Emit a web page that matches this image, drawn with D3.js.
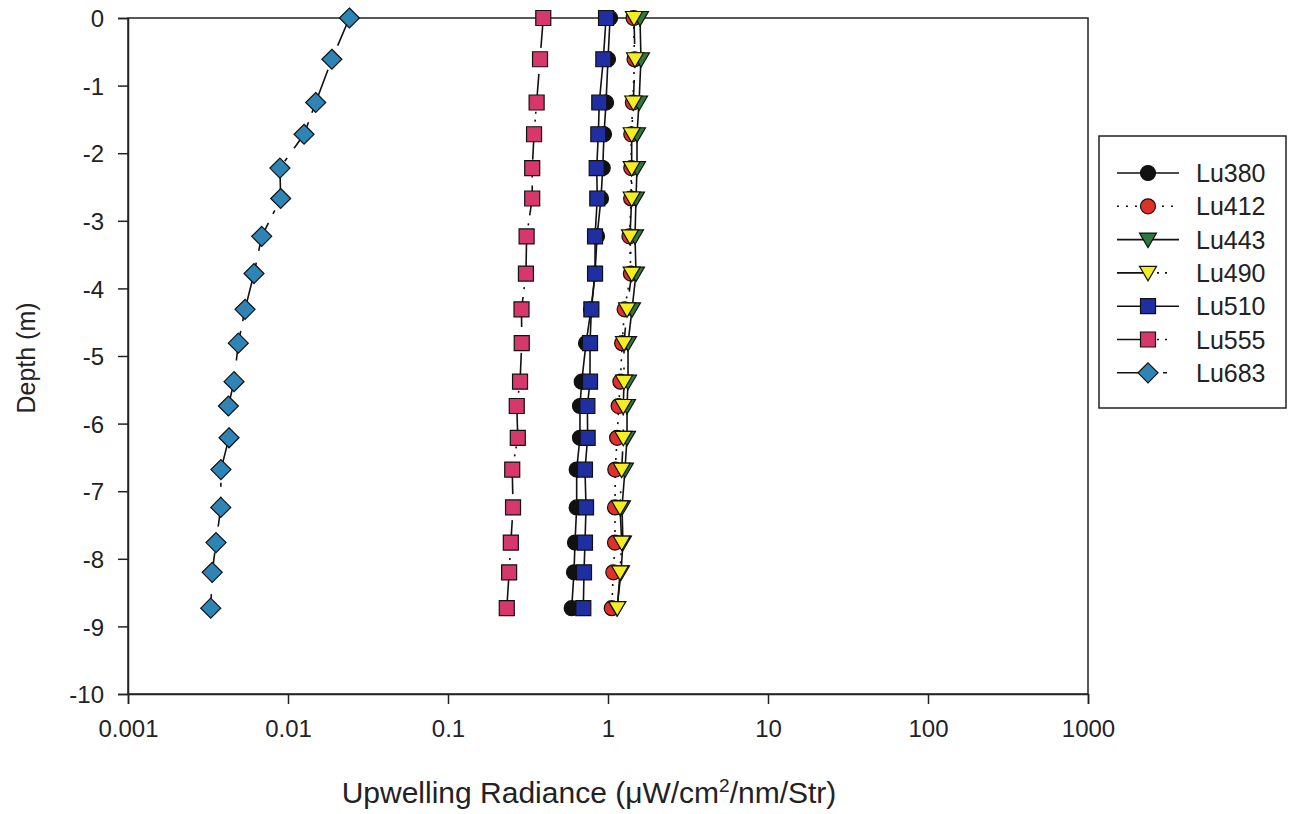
<!DOCTYPE html>
<html><head><meta charset="utf-8">
<script src="https://cdn.jsdelivr.net/npm/d3@7"></script>
<style>
html,body{margin:0;padding:0;background:#fff;}
text{font-family:"Liberation Sans",Arial,Helvetica,sans-serif;fill:#222;}
</style></head>
<body><svg id="c" width="1305" height="814"></svg>
<script>
const depths = [0, -0.61, -1.25, -1.72, -2.22, -2.67, -3.23, -3.78, -4.31, -4.81, -5.38, -5.74, -6.21, -6.68, -7.24, -7.76, -8.20, -8.73];
const lu380 = [1.03, 1.0, 0.972, 0.944, 0.927, 0.904, 0.854, 0.83, 0.783, 0.729, 0.685, 0.668, 0.668, 0.637, 0.637, 0.622, 0.613, 0.593];
const lu412 = [1.445, 1.465, 1.43, 1.398, 1.398, 1.395, 1.362, 1.39, 1.27, 1.225, 1.195, 1.165, 1.14, 1.11, 1.106, 1.106, 1.079, 1.055];
const lu443 = [1.585, 1.607, 1.563, 1.518, 1.518, 1.496, 1.475, 1.496, 1.413, 1.334, 1.334, 1.315, 1.315, 1.277, 1.223, 1.24, 1.206, 1.138];
const lu490 = [1.454, 1.475, 1.439, 1.406, 1.406, 1.406, 1.372, 1.406, 1.315, 1.259, 1.259, 1.246, 1.246, 1.218, 1.189, 1.218, 1.189, 1.143];
const lu510 = [0.972, 0.935, 0.882, 0.87, 0.85, 0.857, 0.83, 0.83, 0.787, 0.772, 0.772, 0.743, 0.746, 0.718, 0.729, 0.718, 0.708, 0.701];
const lu555 = [0.394, 0.376, 0.358, 0.345, 0.336, 0.336, 0.31, 0.307, 0.288, 0.289, 0.282, 0.269, 0.273, 0.252, 0.255, 0.247, 0.241, 0.233];
const lu683 = [0.0242, 0.0188, 0.0149, 0.0126, 0.0089, 0.0090, 0.00685, 0.00613, 0.00539, 0.00489, 0.0046, 0.00424, 0.00428, 0.00381, 0.0038, 0.00355, 0.00336, 0.00329];

const seriesNames = ["Lu380","Lu412","Lu443","Lu490","Lu510","Lu555","Lu683"];
const xTickValues = [0.001, 0.01, 0.1, 1, 10, 100, 1000];
const xTickLabels = ["0.001","0.01","0.1","1","10","100","1000"];
const yTickValues = [0,-1,-2,-3,-4,-5,-6,-7,-8,-9,-10];
const yTickLabels = ["0","-1","-2","-3","-4","-5","-6","-7","-8","-9","-10"];

const series = [
  {name:"Lu380", values:lu380, shape:"circle", fill:"#111111", dash:null},
  {name:"Lu412", values:lu412, shape:"circle", fill:"#e0302a", dash:"2,7"},
  {name:"Lu443", values:lu443, shape:"triangle", fill:"#2e7a3e", dash:null},
  {name:"Lu490", values:lu490, shape:"triangle", fill:"#f4ee1e", dash:"26,14,2,6,2,12"},
  {name:"Lu510", values:lu510, shape:"square", fill:"#1f2fa2", dash:null},
  {name:"Lu555", values:lu555, shape:"square", fill:"#d6386c", dash:"30,8,2,6,2,8"},
  {name:"Lu683", values:lu683, shape:"diamond", fill:"#2f84b6", dash:"30,12,4,10"}
];

const svg = d3.select("#c");
const L=128, R=1088, T=18, B=694;
const x = d3.scaleLog().domain([0.001,1000]).range([L,R]);
const y = d3.scaleLinear().domain([-10,0]).range([B,T]);

svg.append("rect").attr("x",L).attr("y",T).attr("width",R-L).attr("height",B-T)
  .attr("fill","none").attr("stroke","#222").attr("stroke-width",1.5);

const xAxis = svg.append("g").attr("transform",`translate(0,${B})`)
  .call(d3.axisBottom(x).tickValues(xTickValues).tickFormat((d,i)=>xTickLabels[i]).tickSize(10).tickPadding(16));
const yAxis = svg.append("g").attr("transform",`translate(${L},0)`)
  .call(d3.axisLeft(y).tickValues(yTickValues).tickFormat((d,i)=>yTickLabels[i]).tickSize(10).tickPadding(14));
[xAxis,yAxis].forEach(g=>{
  g.select(".domain").attr("stroke","#222").attr("stroke-width",1.5);
  g.selectAll(".tick line").attr("stroke","#222").attr("stroke-width",1.5);
  g.selectAll(".tick text").style("font-size","24px").attr("fill","#222")
   .style("font-family","'Liberation Sans',Arial,sans-serif");
});
yAxis.selectAll(".tick text").attr("dy","0.36em");

svg.append("text").attr("x",589).attr("y",803).attr("text-anchor","middle")
  .style("font-size","30px").html('Upwelling Radiance (μW/cm<tspan dy="-11" style="font-size:19px">2</tspan><tspan dy="11">/nm/Str)</tspan>');
svg.append("text").attr("transform","translate(35,358) rotate(-90)").attr("text-anchor","middle")
  .style("font-size","25px").text("Depth (m)");

function markerPath(shape){
  if(shape==="circle") return d3.symbol().type(d3.symbolCircle).size(Math.PI*7.5*7.5)();
  if(shape==="square") return "M-7.5,-7.5H7.5V7.5H-7.5Z";
  if(shape==="diamond") return "M0,-10L10,0L0,10L-10,0Z";
  if(shape==="triangle") return "M-8.5,-6.5L8.5,-6.5L0,8Z";
}

const line = d3.line().x(d=>x(d.v)).y(d=>y(d.d));
const plot = svg.append("g");
series.forEach(s=>{
  const pts = s.values.map((v,i)=>({v:v,d:depths[i]}));
  const g = plot.append("g");
  g.append("path").datum(pts).attr("d",line).attr("fill","none")
    .attr("stroke","#111").attr("stroke-width",1.6)
    .attr("stroke-dasharray",s.dash);
  g.selectAll("path.m").data(pts).enter().append("path").attr("class","m")
    .attr("transform",d=>`translate(${x(d.v)},${y(d.d)})`)
    .attr("d",markerPath(s.shape)).attr("fill",s.fill)
    .attr("stroke","#111").attr("stroke-width",1.2);
});

const lg = svg.append("g");
lg.append("rect").attr("x",1099).attr("y",136).attr("width",187).attr("height",272)
  .attr("fill","#fff").attr("stroke","#222").attr("stroke-width",1.5);
const legendDash = [null,"2,7",null,"26,14,2,6,2,12",null,"26,14,2,6,2,12","26,20,4,12"];
series.forEach((s,i)=>{
  const cy = 173 + i*33.3;
  lg.append("line").attr("x1",1117).attr("x2",1179).attr("y1",cy).attr("y2",cy)
    .attr("stroke","#111").attr("stroke-width",1.6).attr("stroke-dasharray",legendDash[i]);
  lg.append("path").attr("transform",`translate(1148,${cy})`).attr("d",markerPath(s.shape))
    .attr("fill",s.fill).attr("stroke","#111").attr("stroke-width",1.2);
  lg.append("text").attr("x",1196).attr("y",cy).attr("dy","0.36em")
    .style("font-size","25px").text(seriesNames[i]);
});
</script></body></html>
